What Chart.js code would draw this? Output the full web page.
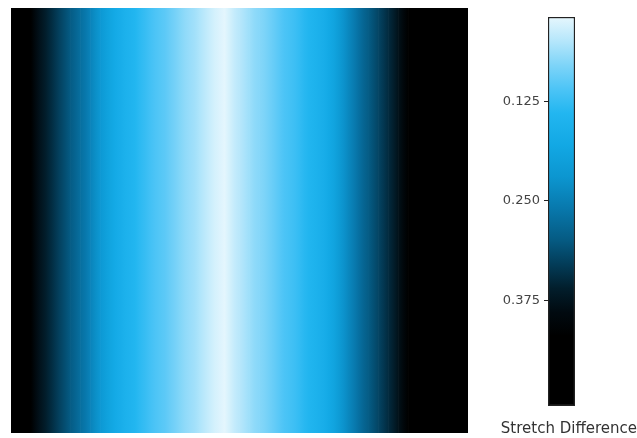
<!DOCTYPE html>
<html>
<head>
<meta charset="utf-8">
<script src="https://cdn.jsdelivr.net/npm/chart.js@4/dist/chart.umd.min.js"></script>
<style>
    body { margin: 0; background: #fff; }
    #wrap { position: relative; width: 637px; height: 438px; }
    #heatmap { position: absolute; left: 0; top: 0; }
    #colorbar { position: absolute; left: 480px; top: 0; }
</style>
</head>
<body>
<div id="wrap">
    <canvas id="heatmap" width="480" height="438"></canvas>
    <canvas id="colorbar" width="157" height="438"></canvas>
</div>
<script>
// stretch difference per column, left to right (field is constant top to bottom)
const columnValues = [
    0.50, 0.47, 0.39, 0.36, 0.335, 0.31, 0.285, 0.26, 0.23, 0.20,
    0.175, 0.155, 0.14, 0.125, 0.11, 0.10, 0.085, 0.07, 0.06, 0.045,
    0.03, 0.02, 0.04, 0.055, 0.07, 0.08, 0.095, 0.11, 0.12, 0.135,
    0.15, 0.165, 0.19, 0.225, 0.255, 0.285, 0.31, 0.335, 0.36, 0.40,
    0.46, 0.50, 0.50, 0.50, 0.50, 0.50
];
const columnLabels = columnValues.map((_, i) => String(i));

// colour scale (value -> colour)
const cmapValues = [0.00, 0.02, 0.05, 0.08, 0.11, 0.14, 0.18, 0.22, 0.26, 0.30, 0.33, 0.36, 0.39, 0.42, 0.51];
const cmapColors = ['#f0fbff', '#e4f6fd', '#b4e6fb', '#7dd4f8', '#4cc4f6', '#22b6f0', '#12a8e4', '#0c96d0',
    '#0878ac', '#055a82', '#033c58', '#021e2c', '#010a10', '#000000', '#000000'];

const colorbarRange = [0.019, 0.508];
const colorbarTicks = [0.125, 0.25, 0.375];
const colorbarTickLabels = ['0.125', '0.250', '0.375'];
const colorbarTitle = 'Stretch Difference';

function hexToRgb(h) {
    return [parseInt(h.slice(1, 3), 16), parseInt(h.slice(3, 5), 16), parseInt(h.slice(5, 7), 16)];
}

function colorAt(v) {
    if (v <= cmapValues[0]) return cmapColors[0];
    for (let i = 1; i < cmapValues.length; i++) {
        if (v <= cmapValues[i]) {
            const t = (v - cmapValues[i - 1]) / (cmapValues[i] - cmapValues[i - 1]);
            const a = hexToRgb(cmapColors[i - 1]), b = hexToRgb(cmapColors[i]);
            const c = a.map((x, k) => Math.round(x + (b[k] - x) * t));
            return `rgb(${c[0]},${c[1]},${c[2]})`;
        }
    }
    return cmapColors[cmapColors.length - 1];
}

// each column is shaded from its neighbours' midpoints so the field looks continuous
function columnFill(ctx) {
    const chart = ctx.chart;
    const i = ctx.dataIndex;
    if (i === undefined) return '#000';
    const v = columnValues[i];
    if (!chart.chartArea) return colorAt(v);
    const xScale = chart.scales.x;
    const x = xScale.getPixelForValue(i);
    const w = xScale.getPixelForValue(1) - xScale.getPixelForValue(0);
    const prev = columnValues[Math.max(i - 1, 0)];
    const next = columnValues[Math.min(i + 1, columnValues.length - 1)];
    const g = chart.ctx.createLinearGradient(x - w / 2, 0, x + w / 2, 0);
    g.addColorStop(0, colorAt((prev + v) / 2));
    g.addColorStop(0.5, colorAt(v));
    g.addColorStop(1, colorAt((v + next) / 2));
    return g;
}

new Chart(document.getElementById('heatmap'), {
    type: 'bar',
    data: {
        labels: columnLabels,
        datasets: [{
            data: columnValues.map(() => [0, 1]),
            backgroundColor: columnFill,
            borderWidth: 0,
            barPercentage: 1,
            categoryPercentage: 1
        }]
    },
    options: {
        responsive: false,
        animation: false,
        layout: { padding: { left: 11, top: 8, right: 12, bottom: 5 } },
        plugins: { legend: { display: false }, tooltip: { enabled: false } },
        scales: {
            x: { display: false },
            y: { display: false, min: 0, max: 1 }
        }
    }
});

function colorbarFill(ctx) {
    const chart = ctx.chart;
    if (!chart.chartArea) return '#000';
    const y = chart.scales.y;
    const y0 = y.getPixelForValue(cmapValues[0]);
    const y1 = y.getPixelForValue(cmapValues[cmapValues.length - 1]);
    const g = chart.ctx.createLinearGradient(0, y0, 0, y1);
    const span = cmapValues[cmapValues.length - 1] - cmapValues[0];
    cmapValues.forEach((v, k) => g.addColorStop((v - cmapValues[0]) / span, cmapColors[k]));
    return g;
}

new Chart(document.getElementById('colorbar'), {
    type: 'bar',
    data: {
        labels: [''],
        datasets: [{
            data: [colorbarRange],
            backgroundColor: colorbarFill,
            borderColor: '#222',
            borderWidth: 1.5,
            borderSkipped: false,
            barPercentage: 1,
            categoryPercentage: 1
        }]
    },
    options: {
        responsive: false,
        animation: false,
        layout: { padding: { left: 0, top: 17, right: 0, bottom: 0 } },
        plugins: {
            legend: { display: false },
            tooltip: { enabled: false },
            title: {
                display: true,
                position: 'bottom',
                align: 'end',
                text: colorbarTitle,
                color: '#333',
                font: { family: 'DejaVu Sans', size: 15, weight: 'normal' },
                padding: { top: 14, bottom: 0 }
            }
        },
        scales: {
            x: { display: false },
            y: {
                reverse: true,
                min: colorbarRange[0],
                max: colorbarRange[1],
                afterBuildTicks(scale) {
                    scale.ticks = colorbarTicks.map(v => ({ value: v }));
                },
                afterFit(scale) { scale.width = 68; },
                grid: { drawOnChartArea: false, tickLength: 4, color: '#222' },
                border: { display: false },
                ticks: {
                    padding: 4,
                    color: '#444',
                    font: { family: 'DejaVu Sans', size: 13 },
                    callback: (value, index) => colorbarTickLabels[index]
                }
            },
            // empty right axis only reserves the white space beside the bar
            yRight: {
                position: 'right',
                grid: { display: false },
                border: { display: false },
                ticks: { display: false },
                afterFit(scale) { scale.width = 62; }
            }
        }
    }
});
</script>
</body>
</html>
